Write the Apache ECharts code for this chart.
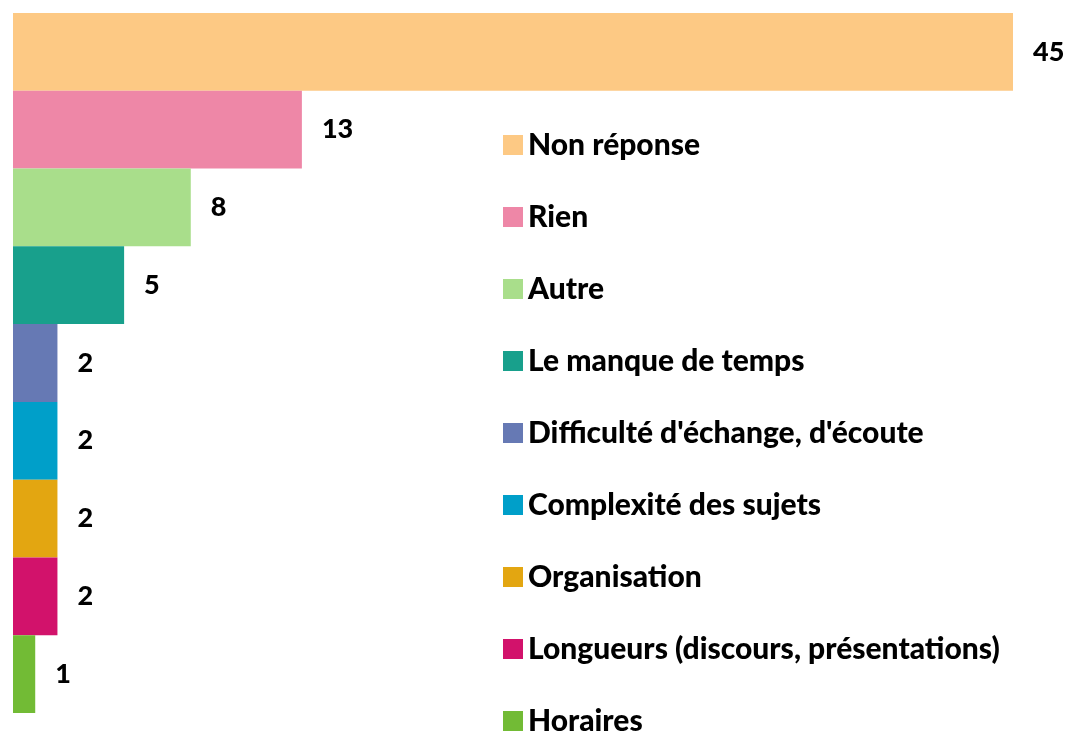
<!DOCTYPE html>
<html>
<head>
<meta charset="utf-8">
<script src="https://cdn.jsdelivr.net/npm/echarts@6/dist/echarts.min.js"></script>
<style>
  html, body { margin: 0; padding: 0; background: #fff; }
  #main { width: 1071px; height: 732px; }
</style>
</head>
<body>
<div id="main"></div>
<script>
var categories = [
    "Non réponse",
    "Rien",
    "Autre",
    "Le manque de temps",
    "Difficulté d'échange, d'écoute",
    "Complexité des sujets",
    "Organisation",
    "Longueurs (discours, présentations)",
    "Horaires"
];
var values = [45, 13, 8, 5, 2, 2, 2, 2, 1];
var colors = ["#FDC984", "#EE87A7", "#A9DE8B", "#18A08C", "#6679B4", "#009FC9", "#E3A611", "#D2126B", "#72BB35"];

var chart = echarts.init(document.getElementById("main"));

var series = categories.map(function (name, i) {
    var data = categories.map(function (c, j) {
        return j === i ? values[i] : "-";
    });
    return {
        name: name,
        type: "bar",
        stack: "all",
        barWidth: "100%",
        itemStyle: { color: colors[i] },
        label: {
            show: true,
            position: "right",
            distance: 20,
            color: "#000",
            fontFamily: "Lato",
            fontWeight: 900,
            fontSize: 27,
            padding: [5, 0, 0, 0]
        },
        data: data
    };
});

// legend split in two: the last item sits so close to the bottom edge
// that a single vertical legend wraps it into a second column
function makeLegend(names, top) {
    return {
        orient: "vertical",
        left: 498,
        top: top,
        padding: [0, 5, 0, 5],
        icon: "rect",
        itemWidth: 20,
        itemHeight: 20,
        itemGap: 42,
        textStyle: {
            color: "#000",
            fontFamily: "Lato",
            fontWeight: 900,
            fontSize: 30
        },
        data: names
    };
}

var options = {
    animation: false,
    grid: { left: 13, right: 58, top: 13, bottom: 19 },
    xAxis: {
        type: "value",
        min: 0,
        max: 45,
        show: false
    },
    yAxis: {
        type: "category",
        data: categories,
        inverse: true,
        show: false
    },
    legend: [
        makeLegend(categories.slice(0, 8), 130),
        makeLegend(categories.slice(8), 706)
    ],
    series: series
};

chart.setOption(options);
</script>
</body>
</html>
